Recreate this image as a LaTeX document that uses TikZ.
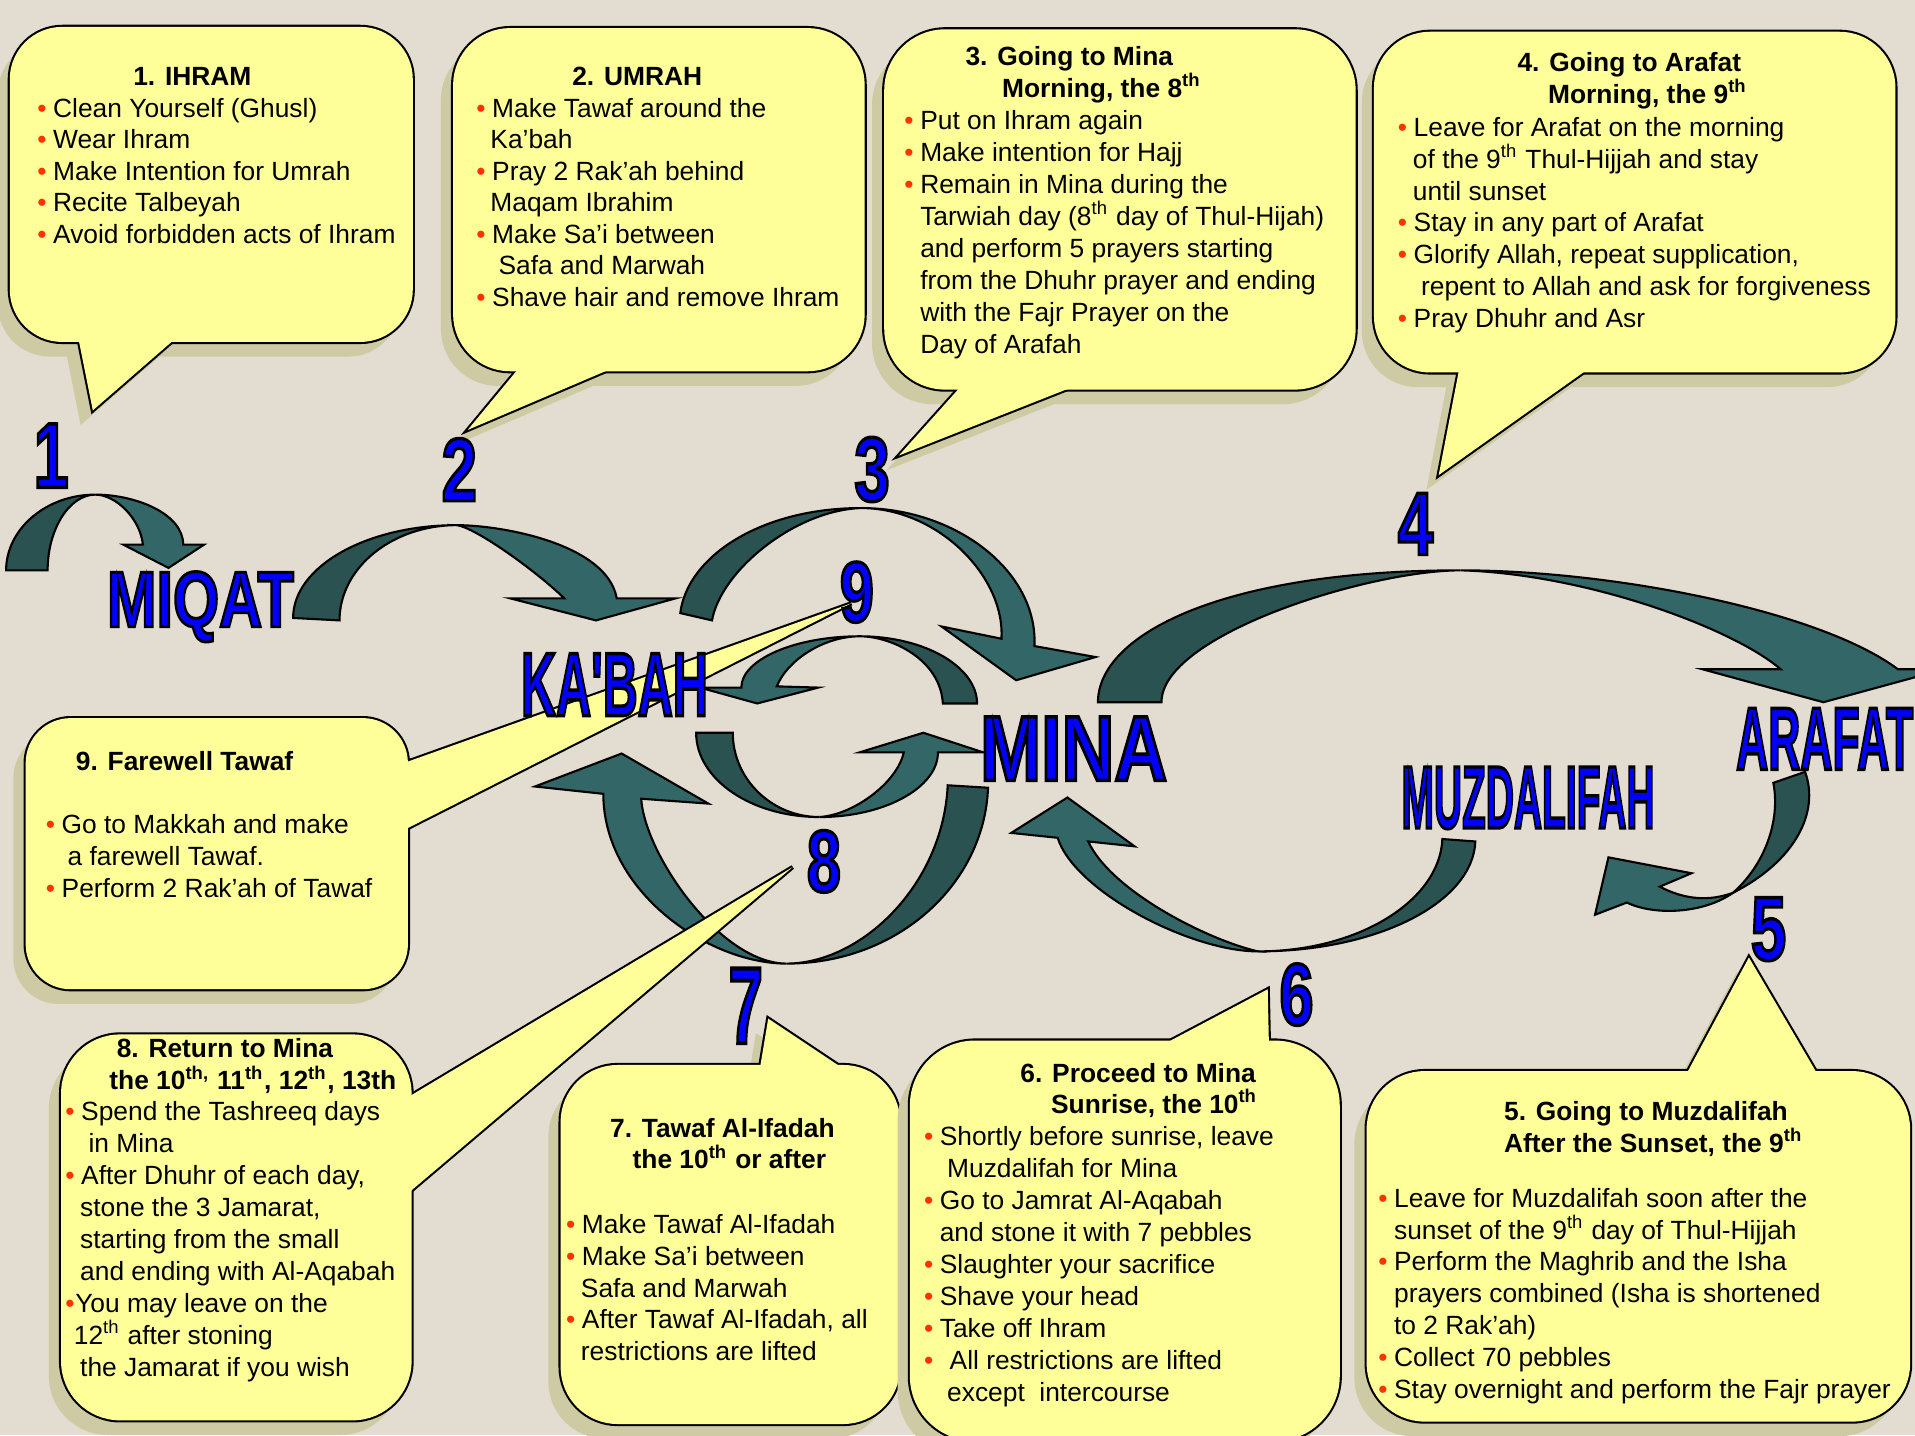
\documentclass[tikz,border=0pt]{standalone}
\usepackage{fontspec}
\setmainfont{Liberation Sans}

\definecolor{paper}{RGB}{227,220,208}
\definecolor{calloutyellow}{RGB}{255,255,153}
\definecolor{calloutshade}{RGB}{205,202,164}
\definecolor{ribdark}{RGB}{41,82,80}
\definecolor{riblight}{RGB}{51,102,102}
\definecolor{placeblue}{RGB}{0,0,255}
\definecolor{bulletred}{RGB}{255,51,0}

\newcommand\bul{\makebox[4.5pt][l]{\textcolor{bulletred}{\textbullet}}}
\newcommand\ind[1]{\hspace*{#1pt}}
\newcommand\sth{\smash{\textsuperscript{th}}}
\newcommand\outlined[1]{\textcolor{placeblue}{\special{pdf:literal direct 0 0 0 RG 0.9 w 2 Tr}#1\special{pdf:literal direct 0 Tr}}}
\newcommand\bigname[3]{\resizebox{#1}{#2}{\fontsize{24}{24}\selectfont\bfseries\outlined{#3}}}
\newcommand\callout[5]{%
  \fill[calloutshadow, rounded corners=#1, shift={(-10,12)}] #2 rectangle #3;
  \fill[calloutshadow, shift={(-10,12)}, #5] #4 -- cycle;
  \draw[calloutrim, rounded corners=#1] #2 rectangle #3;
  \draw[calloutrim] #4 -- cycle;
  \fill[calloutfill, rounded corners=#1] #2 rectangle #3;
  \fill[calloutfill] #4 -- cycle;}

\tikzset{
  calloutfill/.style={fill=calloutyellow},
  calloutrim/.style={draw=black, line width=1.2pt},
  calloutshadow/.style={fill=calloutshade},
  tailshade/.style={},
  notailshade/.style={fill=none},
  rib back/.style={fill=ribdark, draw=black, line width=0.6pt},
  rib front/.style={fill=riblight, draw=black, line width=0.6pt},
  note/.style={inner sep=0pt, anchor=north west, align=left, font=\fontsize{7.5}{#1}\selectfont},
  note/.default=9.05,
  notehead/.style={note=#1, font=\fontsize{7.5}{#1}\selectfont\bfseries},
  notehead/.default=9.05,
  place/.style={inner sep=0pt, anchor=base west}
}

\begin{document}
\begin{tikzpicture}[x=0.12213mm, y=-0.12213mm]
  \useasboundingbox (0,0) rectangle (1568,1175);
  \fill[paper] (0,0) rectangle (1568,1175);

  \path[rib back] (5,467) .. controls (5,433) and (38,405) .. (78,405) .. controls (57,405) and (39,433) .. (39,467) -- cycle;
  \path[rib front] (78,405) .. controls (110,405) and (150,420) .. (150,446) -- (167,446) -- (138,465) -- (101,446) -- (117,446) .. controls (115,425) and (95,405) .. (78,405) -- cycle;

  \path[rib back] (240,506) .. controls (240,464) and (300,430) .. (374,430) .. controls (321,430) and (278,465) .. (278,508) -- cycle;
  \path[rib front] (374,430) .. controls (410,430) and (497,445) .. (505,490) -- (553,490) -- (488,508) -- (418,490) -- (462,490) .. controls (442,470) and (390,432) .. (374,430) -- cycle;

  \path[rib back] (557,502) .. controls (563,455) and (624,416) .. (705,416) .. controls (650,418) and (590,468) .. (583,508) -- cycle;
  \path[rib front] (705,416) .. controls (783,416) and (850,468) .. (847,529) -- (897,538) -- (832,557) -- (771,513) -- (820,523) .. controls (823,472) and (768,416) .. (705,416) -- cycle;

  \path[rib back] (800,576) .. controls (800,546) and (757,521) .. (704,521) .. controls (730,521) and (770,540) .. (772,576) -- cycle;
  \path[rib front] (704,521) .. controls (651,521) and (607,540) .. (607,563) -- (573,563) -- (620,576) -- (670,563) -- (636,562) .. controls (645,540) and (675,521) .. (704,521) -- cycle;

  \path[rib back] (570,600) .. controls (570,638) and (615,669) .. (671,669) .. controls (632,669) and (600,638) .. (600,600) -- cycle;
  \path[rib front] (671,669) .. controls (724,669) and (768,645) .. (768,616) -- (805,616) -- (756,600) -- (704,616) -- (740,616) .. controls (735,640) and (700,667) .. (671,669) -- cycle;

  \path[rib back] (809,645) .. controls (806,724) and (735,789) .. (644,789) .. controls (705,789) and (772,725) .. (776,643) -- cycle;
  \path[rib front] (644,789) .. controls (580,789) and (494,730) .. (494,650) -- (438,644) -- (509,617) -- (580,658) -- (525,654) .. controls (528,700) and (590,789) .. (644,789) -- cycle;

  \path[rib back] (899,575) .. controls (899,520) and (1000,467) .. (1196,467) .. controls (1120,467) and (951,520) .. (951,575) -- cycle;
  \path[rib front] (1196,467) .. controls (1320,467) and (1490,500) .. (1554,548) -- (1592,548) -- (1493,575) -- (1394,548) -- (1458,548) .. controls (1420,515) and (1300,470) .. (1196,467) -- cycle;

  \path[rib back] (1478,632) .. controls (1490,665) and (1470,705) .. (1419,731) .. controls (1445,708) and (1458,672) .. (1452,641) -- cycle;
  \path[rib front] (1419,731) .. controls (1395,748) and (1355,750) .. (1332,739) -- (1306,749) -- (1317,702) -- (1385,715) -- (1359,726) .. controls (1380,737) and (1400,738) .. (1419,731) -- cycle;

  \path[rib back] (1208,689) .. controls (1206,739) and (1128,779) .. (1030,779) .. controls (1113,779) and (1179,737) .. (1181,687) -- cycle;
  \path[rib front] (1030,779) .. controls (975,779) and (880,730) .. (866,686) -- (828,682) -- (874,653) -- (929,693) -- (891,689) .. controls (910,730) and (990,770) .. (1030,779) -- cycle;

  \callout{5.25mm}{(8,22)}{(338,280)}{(64,276) -- (76,336) -- (145,276)}{tailshade}
  \callout{5.7mm}{(371,23)}{(708,304)}{(426,300) -- (383,352) -- (505,300)}{tailshade}
  \callout{6.1mm}{(724,24)}{(1110,319)}{(788,315) -- (736,373) -- (883,315)}{tailshade}
  \callout{5.6mm}{(1125,26)}{(1552,305)}{(1195,301) -- (1178,389) -- (1302,301)}{tailshade}
  \callout{4.5mm}{(21,588)}{(334,810)}{(330,625) -- (697,494) -- (330,680)}{notailshade}
  \callout{5.9mm}{(50,847)}{(337,1163)}{(333,899) -- (649,710) -- (333,978)}{notailshade}
  \callout{5.7mm}{(459,872)}{(737,1166)}{(622,876) -- (629,834) -- (692,876)}{tailshade}
  \callout{6.5mm}{(745,852)}{(1097,1180)}{(951,856) -- (1038,810) -- (1039,856)}{tailshade}
  \callout{5.8mm}{(1119,877)}{(1564,1164)}{(1380,881) -- (1432,784) -- (1489,881)}{tailshade}

  \node[place] (miqat) at (87,513) {\bigname{18.7mm}{5.5mm}{MIQAT}};
  \node[place] (kabah) at (426,586) {\bigname{18.7mm}{6.2mm}{KA\textquotesingle BAH}};
  \node[place] (mina) at (802,639) {\bigname{18.7mm}{6.35mm}{MINA}};
  \node[place] (muzdalifah) at (1147,678) {\bigname{25.3mm}{6.1mm}{MUZDALIFAH}};
  \node[place] (arafat) at (1421,630) {\bigname{17.7mm}{6.1mm}{ARAFAT}};

  \node[place] (n1) at (27,399) {\bigname{3.5mm}{6.35mm}{1}};
  \node[place] (n2) at (361,410) {\bigname{3.54mm}{6.23mm}{2}};
  \node[place] (n3) at (699,410) {\bigname{3.54mm}{6.35mm}{3}};
  \node[place] (n4) at (1144,454) {\bigname{3.54mm}{6.11mm}{4}};
  \node[place] (n5) at (1433,786) {\bigname{3.54mm}{6.23mm}{5}};
  \node[place] (n6) at (1047,839) {\bigname{3.42mm}{6.11mm}{6}};
  \node[place] (n7) at (596,854) {\bigname{3.42mm}{7.45mm}{7}};
  \node[place] (n8) at (660,730) {\bigname{3.42mm}{6.11mm}{8}};
  \node[place] (n9) at (687,509) {\bigname{3.42mm}{5.98mm}{9}};

  \node[notehead=8.97] (h1) at (108.6,51.5) {\strut 1. IHRAM};
  \node[note=8.97] (t1) at (30,77.4) {\strut\bul Clean Yourself (Ghusl)\\ \bul Wear Ihram\\ \bul Make Intention for Umrah\\ \bul Recite Talbeyah\\ \bul Avoid forbidden acts of Ihram};

  \node[notehead=8.97] (h2) at (468,51.5) {\strut 2. UMRAH};
  \node[note=8.97] (t2) at (389.5,77.4) {\strut\bul Make Tawaf around the\\ \ind{4}Ka’bah\\ \bul Pray 2 Rak’ah behind\\ \ind{4}Maqam Ibrahim\\ \bul Make Sa’i between\\ \ind{6.3}Safa and Marwah\\ \bul Shave hair and remove Ihram};

  \node[notehead=9.1] (h3) at (790,34.6) {\strut 3. Going to Mina\\ \ind{10.4}Morning, the 8\sth};
  \node[note=9.1] (t3) at (740,87.1) {\strut\bul Put on Ihram again\\ \bul Make intention for Hajj\\ \bul Remain in Mina during the\\ \ind{4.5}Tarwiah day (8\sth{} day of Thul-Hijah)\\ \ind{4.5}and perform 5 prayers starting\\ \ind{4.5}from the Dhuhr prayer and ending\\ \ind{4.5}with the Fajr Prayer on the\\ \ind{4.5}Day of Arafah};

  \node[notehead=9.05] (h4) at (1242,39.7) {\strut 4. Going to Arafat\\ \ind{8.7}Morning, the 9\sth};
  \node[note=9.08] (t4) at (1144,92.7) {\strut\bul Leave for Arafat on the morning\\ \ind{4.3}of the 9\sth{} Thul-Hijjah and stay\\ \ind{4.3}until sunset\\ \bul Stay in any part of Arafat\\ \bul Glorify Allah, repeat supplication,\\ \ind{6.6}repent to Allah and ask for forgiveness\\ \bul Pray Dhuhr and Asr};

  \node[notehead] (h9) at (61.6,611.7) {\strut 9. Farewell Tawaf};
  \node[note=9.08] (t9) at (37,663.7) {\strut\bul Go to Makkah and make\\ \ind{6.2}a farewell Tawaf.\\ \bul Perform 2 Rak’ah of Tawaf};

  \node[notehead=9.1] (h8) at (89,847.3) {\strut\ind{2.1}8. Return to Mina\\ the 10\smash{\textsuperscript{th,}} 11\sth, 12\sth, 13th};
  \node[note=9.1] (t8) at (53,898.6) {\strut\bul Spend the Tashreeq days\\ \ind{6.6}in Mina\\ \bul After Dhuhr of each day,\\ \ind{4.2}stone the 3 Jamarat,\\ \ind{4.2}starting from the small\\ \ind{4.2}and ending with Al-Aqabah\\ \makebox[2.8pt][l]{\textcolor{bulletred}{\textbullet}}You may leave on the\\ \ind{2.4}12\sth{} after stoning\\ \ind{4.2}the Jamarat if you wish};

  \node[notehead=8.9] (h7) at (499,913) {\strut 7. Tawaf Al-Ifadah\\ \ind{6.4}the 10\sth{} or after};
  \node[note=9.0] (t7) at (463,991.6) {\strut\bul Make Tawaf Al-Ifadah\\ \bul Make Sa’i between\\ \ind{4.2}Safa and Marwah\\ \bul After Tawaf Al-Ifadah, all\\ \ind{4.2}restrictions are lifted};

  \node[notehead=8.7] (h6) at (835,868.4) {\strut 6. Proceed to Mina\\ \ind{8.7}Sunrise, the 10\sth};
  \node[note=9.1] (t6) at (756,919.1) {\strut\bul Shortly before sunrise, leave\\ \ind{6.6}Muzdalifah for Mina\\ \bul Go to Jamrat Al-Aqabah\\ \ind{4.5}and stone it with 7 pebbles\\ \bul Slaughter your sacrifice\\ \bul Shave your head\\ \bul Take off Ihram\\ \makebox[7.3pt][l]{\textcolor{bulletred}{\textbullet}}All restrictions are lifted\\ \ind{6.6}except\ \ intercourse};

  \node[notehead=9.0] (h5) at (1231,898.8) {\strut 5. Going to Muzdalifah\\ After the Sunset, the 9\sth};
  \node[note=9.05] (t5) at (1128,969.7) {\strut\bul Leave for Muzdalifah soon after the\\ \ind{4.5}sunset of the 9\sth{} day of Thul-Hijjah\\ \bul Perform the Maghrib and the Isha\\ \ind{4.5}prayers combined (Isha is shortened\\ \ind{4.5}to 2 Rak’ah)\\ \bul Collect 70 pebbles\\ \bul Stay overnight and perform the Fajr prayer};
\end{tikzpicture}
\end{document}
